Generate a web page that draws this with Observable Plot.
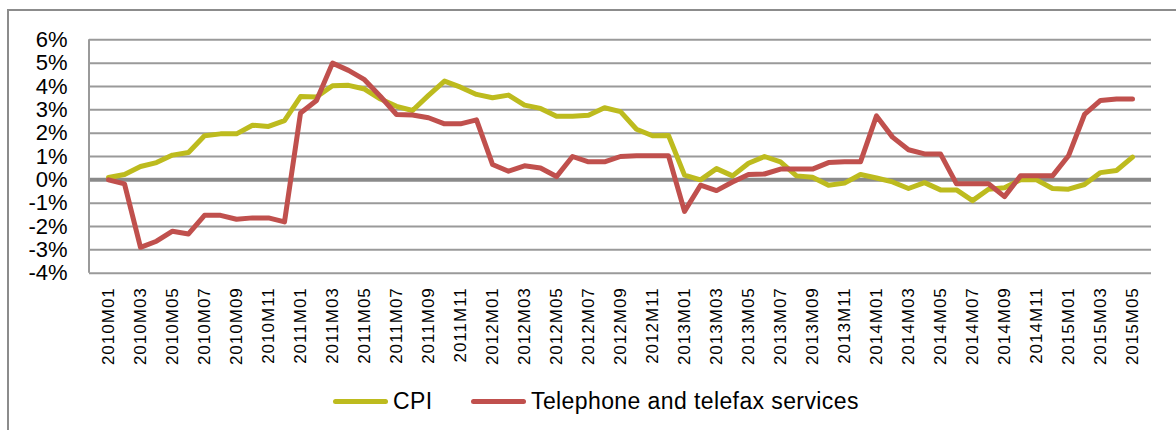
<!DOCTYPE html>
<html>
<head>
<meta charset="utf-8">
<script src="https://cdn.jsdelivr.net/npm/d3@7"></script>
<script src="https://cdn.jsdelivr.net/npm/@observablehq/plot@0.6"></script>
<style>
  html, body { margin: 0; padding: 0; background: #fff; }
  #wrap { position: relative; width: 1176px; height: 430px; overflow: hidden; font-family: "Liberation Sans", Arial, sans-serif; }
  #frame { position: absolute; left: 7px; top: 9px; width: 1200px; height: 440px; border-top: 2px solid #8c8c8c; border-left: 2px solid #8c8c8c; box-sizing: border-box; }
  #chart { position: absolute; left: 0; top: 0; }
  .leg { position: absolute; top: 388px; height: 26px; display: flex; align-items: center; font-size: 23px; letter-spacing: 0.4px; color: #000; }
  .sw { width: 55px; height: 5px; border-radius: 3px; margin-right: 5px; }
</style>
</head>
<body>
<div id="wrap">
  <div id="frame"></div>
  <div id="chart"></div>
  <div id="legend"></div>
</div>
<script>
const months = [
  "2010M01","2010M02","2010M03","2010M04","2010M05","2010M06","2010M07","2010M08","2010M09","2010M10","2010M11","2010M12",
  "2011M01","2011M02","2011M03","2011M04","2011M05","2011M06","2011M07","2011M08","2011M09","2011M10","2011M11","2011M12",
  "2012M01","2012M02","2012M03","2012M04","2012M05","2012M06","2012M07","2012M08","2012M09","2012M10","2012M11","2012M12",
  "2013M01","2013M02","2013M03","2013M04","2013M05","2013M06","2013M07","2013M08","2013M09","2013M10","2013M11","2013M12",
  "2014M01","2014M02","2014M03","2014M04","2014M05","2014M06","2014M07","2014M08","2014M09","2014M10","2014M11","2014M12",
  "2015M01","2015M02","2015M03","2015M04","2015M05"
];
const tickLabels = [
  "2010M01","2010M03","2010M05","2010M07","2010M09","2010M11",
  "2011M01","2011M03","2011M05","2011M07","2011M09","2011M11",
  "2012M01","2012M03","2012M05","2012M07","2012M09","2012M11",
  "2013M01","2013M03","2013M05","2013M07","2013M09","2013M11",
  "2014M01","2014M03","2014M05","2014M07","2014M09","2014M11",
  "2015M01","2015M03","2015M05"
];
const yTicks = [-4, -3, -2, -1, 0, 1, 2, 3, 4, 5, 6];
const seriesNames = ["CPI", "Telephone and telefax services"];
const seriesColors = ["#bdbb1e", "#c0504d"];
const cpi = [0.1, 0.23, 0.57, 0.74, 1.06, 1.17, 1.89, 1.97, 1.97, 2.34,
  2.29, 2.54, 3.57, 3.55, 4.03, 4.05, 3.89, 3.46, 3.15, 2.97,
  3.62, 4.23, 3.97, 3.66, 3.52, 3.63, 3.2, 3.06, 2.72, 2.72,
  2.77, 3.09, 2.92, 2.17, 1.89, 1.9, 0.2, 0.0, 0.48, 0.17,
  0.71, 1.0, 0.77, 0.17, 0.11, -0.23, -0.14, 0.23, 0.08, -0.09,
  -0.37, -0.12, -0.43, -0.43, -0.89, -0.4, -0.34, 0.0, 0.0, -0.37,
  -0.4, -0.2, 0.31, 0.4, 0.97];
const telephone = [0.0, -0.17, -2.89, -2.63, -2.2, -2.32, -1.52, -1.52, -1.69, -1.63,
  -1.63, -1.8, 2.86, 3.4, 5.0, 4.69, 4.29, 3.57, 2.8, 2.78,
  2.66, 2.4, 2.4, 2.57, 0.66, 0.37, 0.6, 0.51, 0.14, 1.0,
  0.77, 0.77, 1.0, 1.03, 1.03, 1.03, -1.35, -0.23, -0.46, -0.09,
  0.23, 0.25, 0.46, 0.46, 0.46, 0.74, 0.77, 0.77, 2.74, 1.83,
  1.29, 1.11, 1.11, -0.17, -0.17, -0.17, -0.72, 0.17, 0.17, 0.17,
  1.03, 2.8, 3.4, 3.46, 3.46];

const rows = [];
months.forEach((m, i) => rows.push({month: m, value: cpi[i], series: seriesNames[0]}));
months.forEach((m, i) => rows.push({month: m, value: telephone[i], series: seriesNames[1]}));

const leftLine = (index, scales, values, dims) => {
  const g = document.createElementNS("http://www.w3.org/2000/svg", "line");
  g.setAttribute("x1", dims.marginLeft);
  g.setAttribute("x2", dims.marginLeft);
  g.setAttribute("y1", scales.y(yTicks[yTicks.length - 1]));
  g.setAttribute("y2", scales.y(yTicks[0]));
  g.setAttribute("stroke", "#9a9a9a");
  g.setAttribute("stroke-width", 2);
  return g;
};

const chart = Plot.plot({
  width: 1176,
  height: 375,
  marginLeft: 89,
  marginRight: 25,
  marginTop: 39.3,
  marginBottom: 102.3,
  style: {fontFamily: "'Liberation Sans', Arial, sans-serif", color: "#000", background: "transparent"},
  x: {type: "point", domain: months, padding: 0.5},
  y: {domain: [-4, 6]},
  color: {domain: seriesNames, range: seriesColors},
  marks: [
    Plot.ruleY(yTicks.filter(d => d !== 0), {stroke: "#9a9a9a", strokeWidth: 2}),
    Plot.ruleY([0], {stroke: "#8a8a8a", strokeWidth: 4}),
    leftLine,
    Plot.axisY({ticks: yTicks, tickFormat: d => d + "%", tickSize: 0, tickPadding: 22, fontSize: 22, label: null}),
    Plot.axisX({ticks: tickLabels, tickSize: 0, tickPadding: 14, tickRotate: -90, fontSize: 17, label: null}),
    Plot.line(rows, {x: "month", y: "value", z: "series", stroke: "series", strokeWidth: 5, strokeLinejoin: "round", strokeLinecap: "round"})
  ]
});
chart.querySelectorAll('g[aria-label="x-axis tick label"] text').forEach(t => t.setAttribute("letter-spacing", "1"));
document.getElementById("chart").appendChild(chart);

const legend = document.getElementById("legend");
const legendLeft = [333, 471];
seriesNames.forEach((name, i) => {
  const item = document.createElement("div");
  item.className = "leg";
  item.style.left = legendLeft[i] + "px";
  const sw = document.createElement("div");
  sw.className = "sw";
  sw.style.background = seriesColors[i];
  const tx = document.createElement("span");
  tx.textContent = name;
  item.appendChild(sw);
  item.appendChild(tx);
  legend.appendChild(item);
});
</script>
</body>
</html>
